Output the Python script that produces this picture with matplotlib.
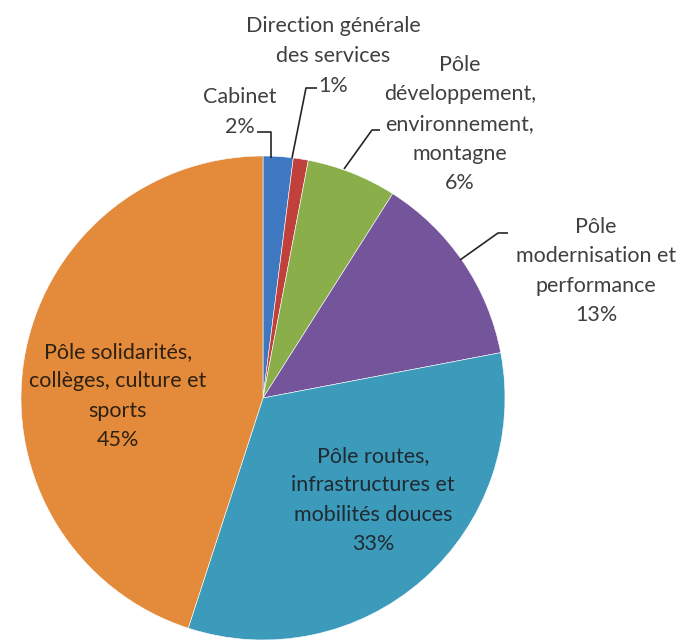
import matplotlib
matplotlib.use("Agg")
import matplotlib.pyplot as plt

# Headcount share by department
categories = [
    "Cabinet",
    "Direction générale\ndes services",
    "Pôle\ndéveloppement,\nenvironnement,\nmontagne",
    "Pôle\nmodernisation et\nperformance",
    "Pôle routes,\ninfrastructures et\nmobilités douces",
    "Pôle solidarités,\ncollèges, culture et\nsports",
]
shares = [2, 1, 6, 13, 33, 45]
colors = ["#3E78C0", "#C0403C", "#89AE4A", "#74549A", "#3C9ABA", "#E38B3B"]

W, H = 685, 643
fig = plt.figure(figsize=(W / 100, H / 100), dpi=100)
ax = fig.add_axes([0, 0, 1, 1])

cx, cy, r = 263, H - 398, 242
ax.pie(shares, colors=colors, startangle=90, counterclock=False,
       center=(cx, cy), radius=r, frame=True,
       wedgeprops=dict(edgecolor="white", linewidth=0.4))
ax.set_xlim(0, W)
ax.set_ylim(0, H)
ax.set_aspect("equal")
ax.axis("off")

font = dict(family=["Lato", "DejaVu Sans"], fontsize=15.5, ha="center",
            va="center")
PITCH = 29.5  # line pitch of the data labels, in pixels


def label(i, x, y, color="#404040"):
    lines = categories[i].split("\n") + [f"{shares[i]}%"]
    top = y - PITCH * (len(lines) - 1) / 2
    for k, line in enumerate(lines):
        ax.text(x, H - (top + k * PITCH), line, color=color, **font)


label(0, 240, 112)
label(1, 333, 56)
label(2, 460, 124)
label(3, 596, 271)
label(4, 373, 500, color="#1f2a33")
label(5, 118, 396, color="#2e2012")

# leader lines
leaders = [
    [(257, 132), (271, 132), (271, 158)],
    [(317, 88), (306, 88), (292, 158)],
    [(380, 130), (372, 130), (344, 169)],
    [(508, 233), (498, 233), (460, 260)],
]
for pts in leaders:
    xs = [p[0] for p in pts]
    ys = [H - p[1] for p in pts]
    ax.plot(xs, ys, color="#262626", lw=1.2, solid_capstyle="butt")

fig.savefig("out.png", dpi=100, facecolor="white")
